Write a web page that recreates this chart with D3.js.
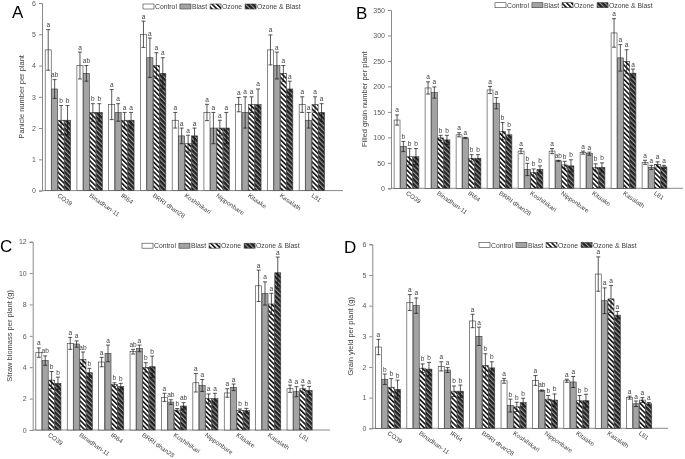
<!DOCTYPE html>
<html><head><meta charset="utf-8">
<script src="https://cdn.jsdelivr.net/npm/d3@7"></script>
<style>body{margin:0;background:#fff;} svg{display:block;font-family:"Liberation Sans",Arial,sans-serif;will-change:transform;} svg text{-webkit-font-smoothing:antialiased;}</style>
</head><body>
<svg id="chart" width="685" height="459"></svg>
<script>
const categories = ["CO39","Binadhan-11","IR64","BRRI dhan28","Koshihikari","Nipponbare","Kitaake","Kasalath","L81"];
const seriesNames = ["Control","Blast","Ozone","Ozone & Blast"];

// Panel A: Panicle number per plant
const panicleControl = [4.5,4.0,2.75,5.0,2.25,2.5,2.75,4.5,2.75];
const panicleBlast   = [3.25,3.75,2.5,4.25,1.75,2.0,2.5,4.0,2.25];
const panicleOzone   = [2.25,2.5,2.25,4.0,1.5,2.0,2.75,3.75,2.75];
const panicleOB      = [2.25,2.5,2.25,3.75,1.75,2.0,2.75,3.25,2.5];
const panicleErrC = [0.65,0.43,0.48,0.42,0.25,0.26,0.23,0.48,0.25];
const panicleErrB = [0.3,0.25,0.28,0.63,0.25,0.5,0.5,0.43,0.25];
const panicleErrO = [0.47,0.28,0.25,0.41,0.27,0.25,0.25,0.25,0.25];
const panicleErrOB= [0.47,0.28,0.25,0.5,0.25,0.5,0.5,0.25,0.28];
const panicleLetC = ["a","a","a","a","a","a","a","a","a"];
const panicleLetB = ["ab","ab","a","a","a","a","a","a","a"];
const panicleLetO = ["b","b","a","a","a","a","a","a","a"];
const panicleLetOB= ["b","b","a","a","a","a","a","a","a"];

// Panel B: Filled grain number per plant
const grainNumControl = [134,197,105,193,73,73,70,305,51];
const grainNumBlast   = [82,188,99,167,37,54,68,256,41];
const grainNumOzone   = [62,99,59,112,31,46,41,249,47];
const grainNumOB      = [62,95,59,105,37,44,41,226,42];
const grainNumErrC = [10,12,4,7,5,5,3,28,4];
const grainNumErrB = [10,11,1,11,12,1,3,26,4];
const grainNumErrO = [16,5,7,17,7,7,7,23,5];
const grainNumErrOB= [16,9,7,10,7,12,9,8,3];
const grainNumLetC = ["a","a","a","a","a","a","a","a","a"];
const grainNumLetB = ["b","a","a","a","b","ab","a","a","a"];
const grainNumLetO = ["b","b","b","b","b","b","b","a","a"];
const grainNumLetOB= ["b","b","b","b","b","b","b","a","a"];

// Panel C: Straw biomass per plant (g)
const strawControl = [4.93,5.52,4.33,4.99,2.08,3.01,2.36,9.19,2.63];
const strawBlast   = [4.42,5.48,4.88,5.2,1.78,2.84,2.72,8.7,2.44];
const strawOzone   = [3.18,4.5,2.89,3.99,1.27,2.0,1.23,8.03,2.63];
const strawOB      = [2.97,3.65,2.76,4.03,1.53,2.0,1.23,10.02,2.53];
const strawErrC = [0.3,0.38,0.3,0.15,0.26,0.59,0.27,1.0,0.23];
const strawErrB = [0.3,0.2,0.53,0.21,0.15,0.38,0.21,0.74,0.32];
const strawErrO = [0.55,0.47,0.12,0.3,0.1,0.3,0.11,0.68,0.23];
const strawErrOB= [0.4,0.28,0.21,0.68,0.21,0.34,0.15,1.0,0.25];
const strawLetC = ["a","a","a","ab","a","a","a","a","a"];
const strawLetB = ["ab","a","a","a","ab","a","a","a","a"];
const strawLetO = ["b","ab","b","b","b","a","b","a","a"];
const strawLetOB= ["b","b","b","b","ab","a","b","a","a"];

// Panel D: Grain yield per plant (g)
const yieldControl = [2.65,4.1,2.02,3.5,1.55,1.56,1.55,5.03,1.0];
const yieldBlast   = [1.6,4.0,1.9,3.0,0.74,1.23,1.51,4.16,0.8];
const yieldOzone   = [1.34,1.96,1.21,2.05,0.7,0.95,0.9,4.22,0.92];
const yieldOB      = [1.27,1.93,1.21,1.97,0.84,0.92,0.9,3.69,0.8];
const yieldErrC = [0.25,0.26,0.15,0.22,0.08,0.16,0.05,0.56,0.05];
const yieldErrB = [0.17,0.25,0.08,0.3,0.21,0.02,0.18,0.42,0.09];
const yieldErrO = [0.28,0.14,0.17,0.38,0.15,0.12,0.17,0.44,0.08];
const yieldErrOB= [0.3,0.22,0.2,0.2,0.14,0.2,0.21,0.12,0.04];
const yieldLetC = ["a","a","a","a","a","a","a","a","a"];
const yieldLetB = ["b","a","a","a","b","ab","a","a","a"];
const yieldLetO = ["b","b","b","b","b","b","b","a","a"];
const yieldLetOB= ["b","b","b","b","b","b","b","a","a"];

const svg = d3.select("#chart");
const defs = svg.append("defs");
const pO = defs.append("pattern").attr("id","patOzone").attr("patternUnits","userSpaceOnUse")
  .attr("width",3.4).attr("height",3.4).attr("patternTransform","rotate(-45)");
pO.append("rect").attr("width",3.4).attr("height",3.4).attr("fill","#fff");
pO.append("rect").attr("width",1.6).attr("height",3.4).attr("fill","#111");
const pOB = defs.append("pattern").attr("id","patOB").attr("patternUnits","userSpaceOnUse")
  .attr("width",3.4).attr("height",3.4).attr("patternTransform","rotate(-45)");
pOB.append("rect").attr("width",3.4).attr("height",3.4).attr("fill","#222");
pOB.append("rect").attr("width",1.1).attr("height",3.4).attr("fill","#9a9a9a");

const fills = ["#ffffff","#a3a3a3","url(#patOzone)","url(#patOB)"];
const axisColor = "#8a8a8a";
const textColor = "#404040";

function drawPanel(p) {
  const g = svg.append("g");
  const y = d3.scaleLinear().domain([0,p.max]).range([p.y0,p.yTop]);
  const x = d3.scaleBand().domain(categories).range([p.x0, p.x0 + p.band*categories.length]);
  const xs = d3.scaleBand().domain(seriesNames).range([0, p.band*0.8]).paddingInner(0.06);
  const off = p.band*0.1;

  const ya = d3.axisLeft(y).tickValues(d3.range(0,p.max+1e-9,p.step)).tickFormat(d3.format("~g")).tickSize(3).tickPadding(3);
  const yg = g.append("g").attr("transform",`translate(${p.x0},0)`).call(ya);
  yg.select(".domain").attr("stroke",axisColor);
  yg.selectAll(".tick line").attr("stroke",axisColor);
  yg.selectAll(".tick text").attr("fill","#595959").attr("font-size",7).attr("font-family","Liberation Sans, Arial, sans-serif");

  g.append("line").attr("x1",p.x0).attr("x2",p.xEnd).attr("y1",p.y0).attr("y2",p.y0)
    .attr("stroke",axisColor).attr("stroke-width",1);

  p.series.forEach((s,si) => {
    categories.forEach((c,ci) => {
      const v = s.vals[ci], e = s.err[ci];
      const bx = x(c) + off + xs(seriesNames[si]);
      const bw = xs.bandwidth();
      g.append("rect").attr("x",bx).attr("y",y(v)).attr("width",bw).attr("height",p.y0-y(v))
        .attr("fill",fills[si]).attr("stroke","#3a3a3a").attr("stroke-width",0.6);
      const cx = bx + bw/2;
      g.append("line").attr("x1",cx).attr("x2",cx).attr("y1",y(v-e)).attr("y2",y(v+e))
        .attr("stroke","#111").attr("stroke-width",0.7);
      [v-e, v+e].forEach(t => {
        g.append("line").attr("x1",cx-2).attr("x2",cx+2).attr("y1",y(t)).attr("y2",y(t))
          .attr("stroke","#111").attr("stroke-width",0.7);
      });
      g.append("text").attr("x",cx).attr("y",y(v+e)-2.5).attr("text-anchor","middle")
        .attr("font-size",6.5).attr("fill",textColor).text(s.let[ci]);
    });
  });

  categories.forEach(c => {
    const cx = x(c) + p.band/2;
    g.append("text").attr("transform",`translate(${cx-1},${p.y0+6}) rotate(35)`)
      .attr("font-size",6.3).attr("fill","#404040").text(c);
  });

  g.append("text").attr("transform",`translate(${p.titleX},${(p.y0+p.yTop)/2}) rotate(-90)`)
    .attr("text-anchor","middle").attr("font-size",7.5).attr("fill","#404040").text(p.title);

  g.append("text").attr("x",p.letterX).attr("y",p.letterY).attr("font-size",17)
    .attr("fill","#000").text(p.letter);

  let lx = p.legX;
  seriesNames.forEach((n,i) => {
    g.append("rect").attr("x",lx).attr("y",p.legY-2.5).attr("width",11).attr("height",5)
      .attr("fill",fills[i]).attr("stroke","#3a3a3a").attr("stroke-width",0.6);
    const t = g.append("text").attr("x",lx+12).attr("y",p.legY+2.5).attr("font-size",6.8)
      .attr("fill","#404040").text(n);
    lx += 12 + t.node().getComputedTextLength() + 3;
  });
}

drawPanel({letter:"A", letterX:12, letterY:18, x0:42, y0:190.6, yTop:3, max:6, step:1, band:31.75, xEnd:343,
  title:"Panicle number per plant", titleX:24, legX:143, legY:6.5,
  series:[{vals:panicleControl,err:panicleErrC,let:panicleLetC},{vals:panicleBlast,err:panicleErrB,let:panicleLetB},
          {vals:panicleOzone,err:panicleErrO,let:panicleLetO},{vals:panicleOB,err:panicleErrOB,let:panicleLetOB}]});
drawPanel({letter:"B", letterX:356, letterY:19, x0:391, y0:188.3, yTop:10, max:350, step:50, band:31, xEnd:683,
  title:"Filled grain number per plant", titleX:367, legX:495, legY:5.2,
  series:[{vals:grainNumControl,err:grainNumErrC,let:grainNumLetC},{vals:grainNumBlast,err:grainNumErrB,let:grainNumLetB},
          {vals:grainNumOzone,err:grainNumErrO,let:grainNumLetO},{vals:grainNumOB,err:grainNumErrOB,let:grainNumLetOB}]});
drawPanel({letter:"C", letterX:0, letterY:252, x0:32.7, y0:430, yTop:241.7, max:12, step:2, band:31.4, xEnd:330,
  title:"Straw biomass per plant (g)", titleX:12, legX:142, legY:245.7,
  series:[{vals:strawControl,err:strawErrC,let:strawLetC},{vals:strawBlast,err:strawErrB,let:strawLetB},
          {vals:strawOzone,err:strawErrO,let:strawLetO},{vals:strawOB,err:strawErrOB,let:strawLetOB}]});
drawPanel({letter:"D", letterX:344, letterY:253, x0:372.3, y0:428.3, yTop:244.3, max:6, step:1, band:31.4, xEnd:668,
  title:"Grain yield per plant (g)", titleX:353, legX:479, legY:245,
  series:[{vals:yieldControl,err:yieldErrC,let:yieldLetC},{vals:yieldBlast,err:yieldErrB,let:yieldLetB},
          {vals:yieldOzone,err:yieldErrO,let:yieldLetO},{vals:yieldOB,err:yieldErrOB,let:yieldLetOB}]});
</script>
</body></html>
